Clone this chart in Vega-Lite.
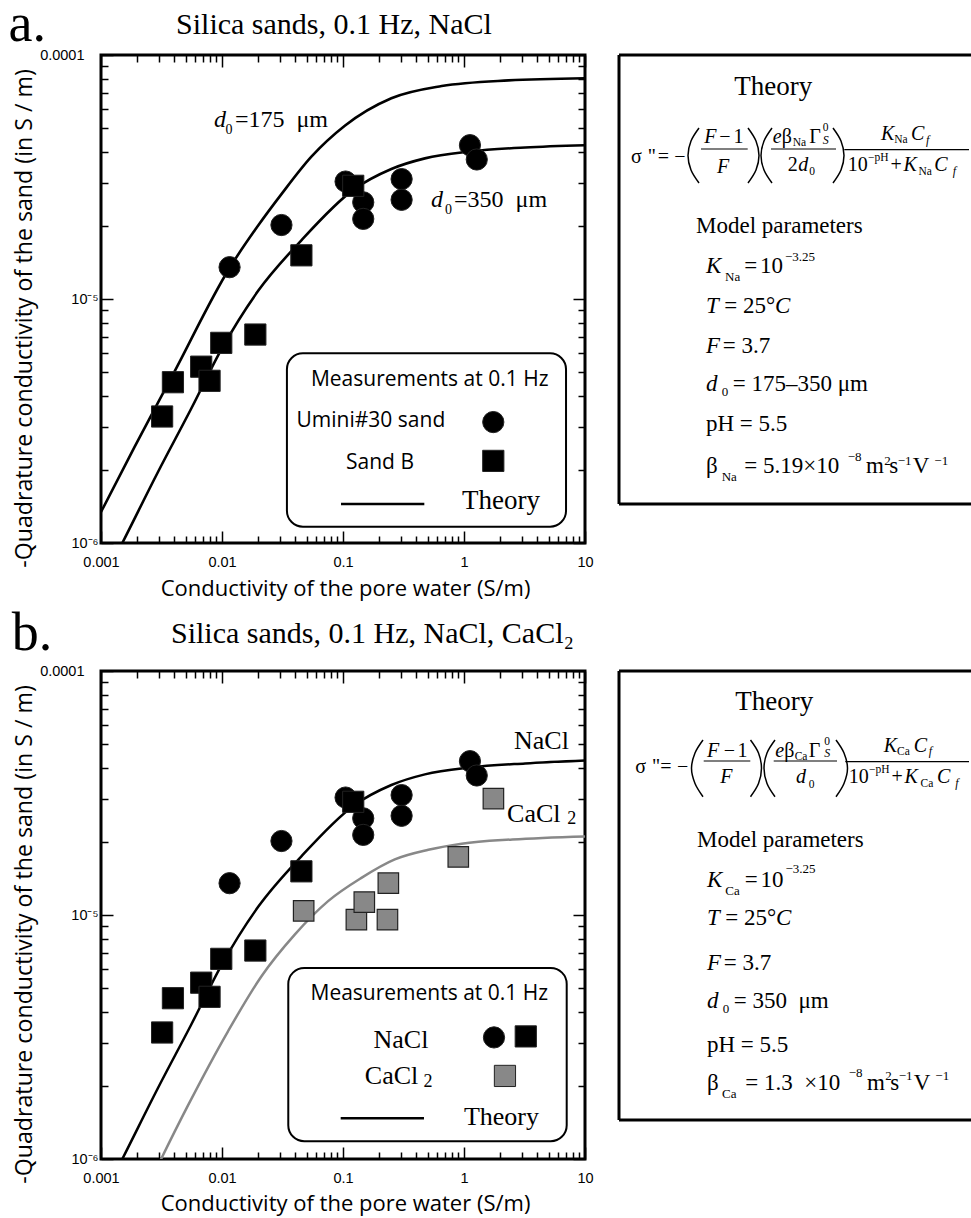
{
"$schema":"https://vega.github.io/schema/vega-lite/v6.json",
"padding":{"left":6,"top":-4,"right":0,"bottom":0},
"columns":2,
"align":"each",
"bounds":"flush",
"spacing":{"row":128,"column":34},
"config":{"view":{"stroke":"black","strokeWidth":3},"text":{"font":"Liberation Serif","baseline":"alphabetic","align":"left","color":"black"}},
"datasets":{
"meas":[
{"series":"Umini#30 sand","x":0.01155,"y":1.35e-5},{"series":"Umini#30 sand","x":0.031,"y":2.01e-5},{"series":"Umini#30 sand","x":0.105,"y":3.03e-5},{"series":"Umini#30 sand","x":0.147,"y":2.49e-5},{"series":"Umini#30 sand","x":0.147,"y":2.13e-5},{"series":"Umini#30 sand","x":0.305,"y":3.1e-5},{"series":"Umini#30 sand","x":0.305,"y":2.55e-5},{"series":"Umini#30 sand","x":1.12,"y":4.27e-5},{"series":"Umini#30 sand","x":1.275,"y":3.73e-5},
{"series":"Sand B","x":0.0032,"y":3.3e-6},{"series":"Sand B","x":0.00393,"y":4.56e-6},{"series":"Sand B","x":0.00673,"y":5.28e-6},{"series":"Sand B","x":0.00789,"y":4.62e-6},{"series":"Sand B","x":0.00986,"y":6.61e-6},{"series":"Sand B","x":0.01886,"y":7.15e-6},{"series":"Sand B","x":0.0453,"y":1.51e-5},{"series":"Sand B","x":0.1215,"y":2.91e-5}],
"ca":[{"series":"CaCl2","x":0.0473,"y":1.04e-5},{"series":"CaCl2","x":0.129,"y":9.57e-6},{"series":"CaCl2","x":0.15,"y":1.13e-5},{"series":"CaCl2","x":0.237,"y":1.35e-5},{"series":"CaCl2","x":0.233,"y":9.57e-6},{"series":"CaCl2","x":0.897,"y":1.73e-5},{"series":"CaCl2","x":1.75,"y":3.0e-5}],
"theoryA":[
{"d0":"175","x":0.001,"y":1.34e-6},{"d0":"175","x":0.00189,"y":2.47e-6},{"d0":"175","x":0.00393,"y":4.9e-6},{"d0":"175","x":0.01155,"y":1.34e-5},{"d0":"175","x":0.0199,"y":2.0e-5},{"d0":"175","x":0.031,"y":2.69e-5},{"d0":"175","x":0.0548,"y":3.83e-5},{"d0":"175","x":0.1035,"y":5.13e-5},{"d0":"175","x":0.251,"y":6.65e-5},{"d0":"175","x":0.654,"y":7.46e-5},{"d0":"175","x":2.33,"y":7.87e-5},{"d0":"175","x":10,"y":8.03e-5},
{"d0":"350","x":0.0013,"y":8.7e-7},{"d0":"350","x":0.0015,"y":1.0e-6},{"d0":"350","x":0.00295,"y":1.95e-6},{"d0":"350","x":0.00556,"y":3.55e-6},{"d0":"350","x":0.00986,"y":6.2e-6},{"d0":"350","x":0.0199,"y":1.08e-5},{"d0":"350","x":0.0453,"y":1.74e-5},{"d0":"350","x":0.1216,"y":2.8e-5},{"d0":"350","x":0.251,"y":3.41e-5},{"d0":"350","x":0.475,"y":3.77e-5},{"d0":"350","x":1.12,"y":4.02e-5},{"d0":"350","x":3.2,"y":4.18e-5},{"d0":"350","x":10,"y":4.27e-5}],
"theoryB":[
{"salt":"NaCl","x":0.0013,"y":8.7e-7},{"salt":"NaCl","x":0.0015,"y":1.0e-6},{"salt":"NaCl","x":0.00295,"y":1.95e-6},{"salt":"NaCl","x":0.00556,"y":3.55e-6},{"salt":"NaCl","x":0.00986,"y":6.2e-6},{"salt":"NaCl","x":0.0199,"y":1.08e-5},{"salt":"NaCl","x":0.0453,"y":1.74e-5},{"salt":"NaCl","x":0.1216,"y":2.8e-5},{"salt":"NaCl","x":0.251,"y":3.41e-5},{"salt":"NaCl","x":0.475,"y":3.77e-5},{"salt":"NaCl","x":1.12,"y":4.02e-5},{"salt":"NaCl","x":3.2,"y":4.18e-5},{"salt":"NaCl","x":10,"y":4.3e-5},
{"salt":"CaCl2","x":0.0028,"y":8.9e-7},{"salt":"CaCl2","x":0.00314,"y":1.0e-6},{"salt":"CaCl2","x":0.00521,"y":1.65e-6},{"salt":"CaCl2","x":0.01118,"y":3.33e-6},{"salt":"CaCl2","x":0.02113,"y":5.6e-6},{"salt":"CaCl2","x":0.0399,"y":8.31e-6},{"salt":"CaCl2","x":0.0753,"y":1.14e-5},{"salt":"CaCl2","x":0.142,"y":1.42e-5},{"salt":"CaCl2","x":0.268,"y":1.69e-5},{"salt":"CaCl2","x":0.507,"y":1.85e-5},{"salt":"CaCl2","x":0.957,"y":1.96e-5},{"salt":"CaCl2","x":2.51,"y":2.04e-5},{"salt":"CaCl2","x":10,"y":2.1e-5}],
"legSym":[{"panel":"a","series":"Umini#30 sand","x":1.746,"y":3.13e-6},{"panel":"a","series":"Sand B","x":1.746,"y":2.17e-6},{"panel":"b","series":"Umini#30 sand","x":1.77,"y":3.15e-6},{"panel":"b","series":"Sand B","x":3.24,"y":3.18e-6},{"panel":"b","series":"CaCl2","x":2.18,"y":2.19e-6}],
"legLine":[{"panel":"a","x":0.0963,"x2":0.47,"y":1.445e-6},{"panel":"b","x":0.0957,"x2":0.467,"y":1.47e-6}],
"legBox":[{"panel":"a","x":0.0344,"x2":6.97,"y":5.99e-6,"y2":1.167e-6},{"panel":"b","x":0.0353,"x2":7.06,"y":6.07e-6,"y2":1.183e-6}],
"plotSans":[{"panel":"a","x":0.5206,"y":4.41e-6,"text":"Measurements at 0.1 Hz"},{"panel":"a","x":0.17,"y":2.98e-6,"text":"Umini#30 sand"},{"panel":"a","x":0.2023,"y":2.01e-6,"text":"Sand B"},{"panel":"b","x":0.5166,"y":4.5e-6,"text":"Measurements at 0.1 Hz"}],
"plotSerifC":[{"panel":"a","x":2.02,"y":1.377e-6,"text":"Theory"},{"panel":"b","x":2.04,"y":1.38e-6,"text":"Theory"},{"panel":"b","x":0.301,"y":2.85e-6,"text":"NaCl"},{"panel":"b","x":0.252,"y":2.03e-6,"text":"CaCl"}],
"plotSerifL":[{"panel":"a","x":0.0128,"y":5.06e-5,"text":"=175\u00a0\u00a0μm"},{"panel":"a","x":0.827,"y":2.38e-5,"text":"=350\u00a0\u00a0μm"},{"panel":"b","x":2.59,"y":4.79e-5,"text":"NaCl"},{"panel":"b","x":2.27,"y":2.4e-5,"text":"CaCl"}],
"plotItalic":[{"panel":"a","x":0.00859,"y":5.06e-5,"text":"d"},{"panel":"a","x":0.534,"y":2.38e-5,"text":"d"}],
"plotSmall":[{"panel":"a","x":0.01069,"y":4.74e-5,"text":"0"},{"panel":"a","x":0.697,"y":2.22e-5,"text":"0"}],
"plotSub2":[{"panel":"b","x":7.15,"y":2.37e-5,"text":"2"},{"panel":"b","x":0.4627,"y":1.97e-6,"text":"2"}],
"head":[{"panel":"a","x":1.72e-4,"y":1.141e-4,"text":"a."},{"panel":"b","x":1.83e-4,"y":1.219e-4,"text":"b."}],
"heading":[{"panel":"a","x":0.00417,"y":1.219e-4,"text":"Silica sands, 0.1 Hz, NaCl"},{"panel":"b","x":0.00379,"y":1.302e-4,"text":"Silica sands, 0.1 Hz, NaCl, CaCl₂"}],
"boxBorder":[{"x":0,"y":0,"x2":352,"y2":0},{"x":0,"y":0,"x2":0,"y2":449},{"x":0,"y":449,"x2":352,"y2":449}],
"boxTitle":[{"panel":"a","x":154.3,"y":39.7,"text":"Theory"},{"panel":"b","x":155.3,"y":39,"text":"Theory"}],
"fUp":[
{"panel":"a","x":12,"y":108,"text":"σ"},{"panel":"a","x":28.7,"y":108,"text":"\""},{"panel":"a","x":38.7,"y":108,"text":"="},{"panel":"a","x":55.3,"y":108,"text":"−"},{"panel":"a","x":100.3,"y":88,"text":"−"},{"panel":"a","x":114.5,"y":88,"text":"1"},{"panel":"a","x":162.7,"y":88,"text":"β"},{"panel":"a","x":190.3,"y":88,"text":"Γ"},{"panel":"a","x":168.7,"y":116.3,"text":"2"},{"panel":"a","x":228.7,"y":116.3,"text":"10"},{"panel":"a","x":271.5,"y":116.3,"text":"+"},
{"panel":"b","x":16.3,"y":102.3,"text":"σ"},{"panel":"b","x":33,"y":102.3,"text":"\""},{"panel":"b","x":41.3,"y":102.3,"text":"="},{"panel":"b","x":58,"y":102.3,"text":"−"},{"panel":"b","x":104.7,"y":85.7,"text":"−"},{"panel":"b","x":118.5,"y":85.7,"text":"1"},{"panel":"b","x":165.3,"y":85.7,"text":"β"},{"panel":"b","x":189.7,"y":85.7,"text":"Γ"},{"panel":"b","x":229.7,"y":112.3,"text":"10"},{"panel":"b","x":272.5,"y":112.3,"text":"+"}],
"fIt":[
{"panel":"a","x":85.3,"y":88,"text":"F"},{"panel":"a","x":98,"y":118,"text":"F"},{"panel":"a","x":153.7,"y":88,"text":"e"},{"panel":"a","x":179.3,"y":116.3,"text":"d"},{"panel":"a","x":262,"y":84.7,"text":"K"},{"panel":"a","x":292,"y":84.7,"text":"C"},{"panel":"a","x":284.5,"y":116.3,"text":"K"},{"panel":"a","x":315.3,"y":116.3,"text":"C"},
{"panel":"b","x":88,"y":85.7,"text":"F"},{"panel":"b","x":101.3,"y":112.3,"text":"F"},{"panel":"b","x":156.3,"y":85.7,"text":"e"},{"panel":"b","x":177,"y":112.3,"text":"d"},{"panel":"b","x":264.7,"y":80.7,"text":"K"},{"panel":"b","x":294.7,"y":80.7,"text":"C"},{"panel":"b","x":285.5,"y":112.3,"text":"K"},{"panel":"b","x":318,"y":112.3,"text":"C"}],
"fSm":[
{"panel":"a","x":173.7,"y":91.3,"text":"Na"},{"panel":"a","x":203.7,"y":76,"text":"0"},{"panel":"a","x":190.3,"y":119.7,"text":"0"},{"panel":"a","x":275.3,"y":88,"text":"Na"},{"panel":"a","x":249,"y":106.3,"text":"−pH"},{"panel":"a","x":299.5,"y":119.7,"text":"Na"},
{"panel":"b","x":175.7,"y":89,"text":"Ca"},{"panel":"b","x":205.3,"y":74,"text":"0"},{"panel":"b","x":189.7,"y":116.7,"text":"0"},{"panel":"b","x":278,"y":84,"text":"Ca"},{"panel":"b","x":250,"y":102.3,"text":"−pH"},{"panel":"b","x":301.5,"y":115.7,"text":"Ca"}],
"fSmIt":[
{"panel":"a","x":203.7,"y":89,"text":"S"},{"panel":"a","x":307,"y":89,"text":"f"},{"panel":"a","x":333.7,"y":120,"text":"f"},
{"panel":"b","x":205.3,"y":86,"text":"S"},{"panel":"b","x":309.7,"y":84,"text":"f"},{"panel":"b","x":336.3,"y":116,"text":"f"}],
"fBar":[{"panel":"a","x":82,"x2":128.7,"y":94},{"panel":"a","x":152,"x2":217,"y":94},{"panel":"a","x":225.3,"x2":350,"y":94.7},{"panel":"b","x":84.7,"x2":131.3,"y":90},{"panel":"b","x":154.7,"x2":218,"y":90},{"panel":"b","x":226.3,"x2":350,"y":90.7}],
"paren":[
{"panel":"a","id":"a1","k":1,"x":80,"y":73},{"panel":"a","id":"a1","k":2,"x":72,"y":86},{"panel":"a","id":"a1","k":3,"x":69,"y":100.5},{"panel":"a","id":"a1","k":4,"x":72,"y":115},{"panel":"a","id":"a1","k":5,"x":80,"y":128},
{"panel":"a","id":"a2","k":1,"x":129,"y":73},{"panel":"a","id":"a2","k":2,"x":137,"y":86},{"panel":"a","id":"a2","k":3,"x":140,"y":100.5},{"panel":"a","id":"a2","k":4,"x":137,"y":115},{"panel":"a","id":"a2","k":5,"x":129,"y":128},
{"panel":"a","id":"a3","k":1,"x":153,"y":73},{"panel":"a","id":"a3","k":2,"x":145,"y":86},{"panel":"a","id":"a3","k":3,"x":142,"y":100.5},{"panel":"a","id":"a3","k":4,"x":145,"y":115},{"panel":"a","id":"a3","k":5,"x":153,"y":128},
{"panel":"a","id":"a4","k":1,"x":214,"y":73},{"panel":"a","id":"a4","k":2,"x":222,"y":86},{"panel":"a","id":"a4","k":3,"x":225,"y":100.5},{"panel":"a","id":"a4","k":4,"x":222,"y":115},{"panel":"a","id":"a4","k":5,"x":214,"y":128},
{"panel":"b","id":"b1","k":1,"x":84,"y":69},{"panel":"b","id":"b1","k":2,"x":76,"y":82},{"panel":"b","id":"b1","k":3,"x":72.5,"y":97.3},{"panel":"b","id":"b1","k":4,"x":76,"y":112.5},{"panel":"b","id":"b1","k":5,"x":84,"y":125.7},
{"panel":"b","id":"b2","k":1,"x":131.5,"y":69},{"panel":"b","id":"b2","k":2,"x":139.5,"y":82},{"panel":"b","id":"b2","k":3,"x":142.5,"y":97.3},{"panel":"b","id":"b2","k":4,"x":139.5,"y":112.5},{"panel":"b","id":"b2","k":5,"x":131.5,"y":125.7},
{"panel":"b","id":"b3","k":1,"x":156,"y":69},{"panel":"b","id":"b3","k":2,"x":148,"y":82},{"panel":"b","id":"b3","k":3,"x":145,"y":97.3},{"panel":"b","id":"b3","k":4,"x":148,"y":112.5},{"panel":"b","id":"b3","k":5,"x":156,"y":125.7},
{"panel":"b","id":"b4","k":1,"x":217,"y":69},{"panel":"b","id":"b4","k":2,"x":225,"y":82},{"panel":"b","id":"b4","k":3,"x":228.5,"y":97.3},{"panel":"b","id":"b4","k":4,"x":225,"y":112.5},{"panel":"b","id":"b4","k":5,"x":217,"y":125.7}],
"pUp":[
{"panel":"a","x":77,"y":178,"text":"Model parameters"},{"panel":"a","x":125.3,"y":218,"text":"="},{"panel":"a","x":141,"y":218,"text":"10"},{"panel":"a","x":105.3,"y":258,"text":"= 25°"},{"panel":"a","x":103.7,"y":298,"text":"= 3.7"},{"panel":"a","x":113.7,"y":336.3,"text":"= 175–350 μm"},{"panel":"a","x":87,"y":376.3,"text":"pH = 5.5"},{"panel":"a","x":87,"y":418,"text":"β"},{"panel":"a","x":125.3,"y":418,"text":"= 5.19×10"},{"panel":"a","x":247,"y":418,"text":"m"},{"panel":"a","x":270.3,"y":418,"text":"s"},{"panel":"a","x":293.7,"y":418,"text":"V"},
{"panel":"b","x":78,"y":175.7,"text":"Model parameters"},{"panel":"b","x":125.7,"y":215.7,"text":"="},{"panel":"b","x":141.5,"y":215.7,"text":"10"},{"panel":"b","x":106.3,"y":254,"text":"= 25°"},{"panel":"b","x":104.7,"y":299,"text":"= 3.7"},{"panel":"b","x":114.7,"y":337.3,"text":"= 350\u00a0\u00a0μm"},{"panel":"b","x":88,"y":380.7,"text":"pH = 5.5"},{"panel":"b","x":88,"y":419,"text":"β"},{"panel":"b","x":126.3,"y":419,"text":"= 1.3\u00a0\u00a0×10"},{"panel":"b","x":248,"y":419,"text":"m"},{"panel":"b","x":271.3,"y":419,"text":"s"},{"panel":"b","x":294.7,"y":419,"text":"V"}],
"pIt":[
{"panel":"a","x":87,"y":218,"text":"K"},{"panel":"a","x":87,"y":258,"text":"T"},{"panel":"a","x":156,"y":258,"text":"C"},{"panel":"a","x":87,"y":298,"text":"F"},{"panel":"a","x":87,"y":336.3,"text":"d"},
{"panel":"b","x":88,"y":215.7,"text":"K"},{"panel":"b","x":88,"y":254,"text":"T"},{"panel":"b","x":157,"y":254,"text":"C"},{"panel":"b","x":88,"y":299,"text":"F"},{"panel":"b","x":88,"y":337.3,"text":"d"}],
"pSm":[
{"panel":"a","x":106,"y":226.3,"text":"Na"},{"panel":"a","x":166,"y":206.3,"text":"−3.25"},{"panel":"a","x":102.7,"y":341.3,"text":"0"},{"panel":"a","x":102.7,"y":426.3,"text":"Na"},{"panel":"a","x":228.7,"y":406.3,"text":"−8"},{"panel":"a","x":265.3,"y":409.7,"text":"2"},{"panel":"a","x":278.7,"y":409.7,"text":"−1"},{"panel":"a","x":315.3,"y":409.7,"text":"−1"},
{"panel":"b","x":106.3,"y":224,"text":"Ca"},{"panel":"b","x":166.5,"y":202.3,"text":"−3.25"},{"panel":"b","x":103.7,"y":342.3,"text":"0"},{"panel":"b","x":103,"y":427.3,"text":"Ca"},{"panel":"b","x":229.7,"y":405.7,"text":"−8"},{"panel":"b","x":266.3,"y":409,"text":"2"},{"panel":"b","x":279.7,"y":409,"text":"−1"},{"panel":"b","x":316.3,"y":409,"text":"−1"}]
},
"concat":[
{
"width":484,"height":488,
"resolve":{"axis":{"x":"independent","y":"independent"}},
"layer":[
{"data":{"name":"theoryA"},"mark":{"type":"line","color":"black","strokeWidth":2.6,"clip":true,"interpolate":"monotone"},
"encoding":{"x":{"field":"x","type":"quantitative","scale":{"type":"log","domain":[0.001,10],"nice":false},
"axis":{"orient":"bottom","values":[0.001,0.01,0.1,1,10],"labelExpr":"datum.value == 0.001 ? '0.001' : datum.value == 0.01 ? '0.01' : datum.value == 0.1 ? '0.1' : datum.value == 1 ? '1' : '10'","tickSize":-12,"tickWidth":1.5,"tickColor":"black","domain":false,"grid":false,"labelFont":"Liberation Sans","labelFontSize":14.5,"labelColor":"black","labelPadding":24,"labelOverlap":false,"labelFlush":false,"title":"Conductivity of the pore water (S/m)","titleFont":"Open Sans","titleFontSize":22,"titleFontWeight":"normal","titleColor":"black","titleBaseline":"alphabetic","titleAlign":"center","titleX":244,"titleY":52}},
"y":{"field":"y","type":"quantitative","scale":{"type":"log","domain":[1e-6,1e-4],"nice":false},
"axis":{"orient":"left","values":[1e-6,1e-5,1e-4],"labelExpr":"datum.value == 0.0001 ? '0.0001' : datum.value == 0.00001 ? '10⁻⁵' : '10⁻⁶'","tickSize":-12,"tickWidth":1.5,"tickColor":"black","domain":false,"grid":false,"labelFont":"Liberation Sans","labelFontSize":14.5,"labelColor":"black","labelPadding":{"condition":{"test":"datum.value == 0.0001","value":29},"value":15},"labelOverlap":false,"labelFlush":false,"title":"-Quadrature conductivity of the sand (in S / m)","titleFont":"Open Sans","titleFontSize":23.2,"titleFontWeight":"normal","titleColor":"black","titleBaseline":"alphabetic","titleX":-70,"titleY":263}},
"detail":{"field":"d0"}}},
{"data":{"name":"meas"},"mark":{"type":"point","filled":true,"opacity":1,"size":450,"stroke":"#222","strokeWidth":1},
"encoding":{"x":{"field":"x","type":"quantitative","scale":{"type":"log","domain":[0.001,10],"nice":false},
"axis":{"orient":"top","values":[0.001,0.01,0.1,1,10],"labels":false,"tickSize":-12,"tickWidth":1.5,"tickColor":"black","domain":false,"grid":false,"title":null}},
"y":{"field":"y","type":"quantitative","scale":{"type":"log","domain":[1e-6,1e-4],"nice":false},
"axis":{"orient":"right","values":[1e-6,1e-5,1e-4],"labels":false,"tickSize":-12,"tickWidth":1.5,"tickColor":"black","domain":false,"grid":false,"title":null}},
"shape":{"field":"series","type":"nominal","scale":{"domain":["Umini#30 sand","Sand B","CaCl2"],"range":["circle","square","square"]},"legend":null},
"color":{"field":"series","type":"nominal","scale":{"domain":["Umini#30 sand","Sand B","CaCl2"],"range":["black","black","#888888"]},"legend":null}}},
{"data":{"name":"legBox"},"transform":[{"filter":"datum.panel == 'a'"}],"mark":{"type":"rect","fill":"white","stroke":"black","strokeWidth":2,"cornerRadius":16},
"encoding":{"x":{"field":"x","type":"quantitative","scale":{"type":"log","domain":[0.001,10],"nice":false},
"axis":{"orient":"bottom","values":[0.002,0.003,0.004,0.005,0.006,0.007,0.008,0.009,0.02,0.03,0.04,0.05,0.06,0.07,0.08,0.09,0.2,0.3,0.4,0.5,0.6,0.7,0.8,0.9,2,3,4,5,6,7,8,9],"labels":false,"tickSize":-7,"tickWidth":1.5,"tickColor":"black","domain":false,"grid":false,"title":null}},"x2":{"field":"x2"},
"y":{"field":"y","type":"quantitative","scale":{"type":"log","domain":[1e-6,1e-4],"nice":false},
"axis":{"orient":"left","values":[2e-6,3e-6,4e-6,5e-6,6e-6,7e-6,8e-6,9e-6,2e-5,3e-5,4e-5,5e-5,6e-5,7e-5,8e-5,9e-5],"labels":false,"tickSize":-7,"tickWidth":1.5,"tickColor":"black","domain":false,"grid":false,"title":null}},"y2":{"field":"y2"}}},
{"data":{"name":"legSym"},"transform":[{"filter":"datum.panel == 'a'"}],"mark":{"type":"point","filled":true,"opacity":1,"size":450,"stroke":"#222","strokeWidth":1},
"encoding":{"x":{"field":"x","type":"quantitative","scale":{"type":"log","domain":[0.001,10],"nice":false},
"axis":{"orient":"top","values":[0.002,0.003,0.004,0.005,0.006,0.007,0.008,0.009,0.02,0.03,0.04,0.05,0.06,0.07,0.08,0.09,0.2,0.3,0.4,0.5,0.6,0.7,0.8,0.9,2,3,4,5,6,7,8,9],"labels":false,"tickSize":-7,"tickWidth":1.5,"tickColor":"black","domain":false,"grid":false,"title":null}},
"y":{"field":"y","type":"quantitative","scale":{"type":"log","domain":[1e-6,1e-4],"nice":false},
"axis":{"orient":"right","values":[2e-6,3e-6,4e-6,5e-6,6e-6,7e-6,8e-6,9e-6,2e-5,3e-5,4e-5,5e-5,6e-5,7e-5,8e-5,9e-5],"labels":false,"tickSize":-7,"tickWidth":1.5,"tickColor":"black","domain":false,"grid":false,"title":null}},
"shape":{"field":"series","type":"nominal","scale":{"domain":["Umini#30 sand","Sand B","CaCl2"],"range":["circle","square","square"]},"legend":null},
"color":{"field":"series","type":"nominal","scale":{"domain":["Umini#30 sand","Sand B","CaCl2"],"range":["black","black","#888888"]},"legend":null}}},
{"data":{"name":"legLine"},"transform":[{"filter":"datum.panel == 'a'"}],"mark":{"type":"rule","color":"black","strokeWidth":2.5},
"encoding":{"x":{"field":"x","type":"quantitative","scale":{"type":"log","domain":[0.001,10],"nice":false},"axis":null},"x2":{"field":"x2"},"y":{"field":"y","type":"quantitative","scale":{"type":"log","domain":[1e-6,1e-4],"nice":false},"axis":null}}},
{"data":{"name":"plotSans"},"transform":[{"filter":"datum.panel == 'a'"}],"mark":{"type":"text","font":"Open Sans","fontSize":21,"align":"center"},
"encoding":{"x":{"field":"x","type":"quantitative","scale":{"type":"log","domain":[0.001,10],"nice":false},"axis":null},"y":{"field":"y","type":"quantitative","scale":{"type":"log","domain":[1e-6,1e-4],"nice":false},"axis":null},"text":{"field":"text"}}},
{"data":{"name":"plotSerifC"},"transform":[{"filter":"datum.panel == 'a'"}],"mark":{"type":"text","fontSize":27,"align":"center"},
"encoding":{"x":{"field":"x","type":"quantitative","scale":{"type":"log","domain":[0.001,10],"nice":false},"axis":null},"y":{"field":"y","type":"quantitative","scale":{"type":"log","domain":[1e-6,1e-4],"nice":false},"axis":null},"text":{"field":"text"}}},
{"data":{"name":"plotSerifL"},"transform":[{"filter":"datum.panel == 'a'"}],"mark":{"type":"text","fontSize":24},
"encoding":{"x":{"field":"x","type":"quantitative","scale":{"type":"log","domain":[0.001,10],"nice":false},"axis":null},"y":{"field":"y","type":"quantitative","scale":{"type":"log","domain":[1e-6,1e-4],"nice":false},"axis":null},"text":{"field":"text"}}},
{"data":{"name":"plotItalic"},"transform":[{"filter":"datum.panel == 'a'"}],"mark":{"type":"text","fontSize":24,"fontStyle":"italic"},
"encoding":{"x":{"field":"x","type":"quantitative","scale":{"type":"log","domain":[0.001,10],"nice":false},"axis":null},"y":{"field":"y","type":"quantitative","scale":{"type":"log","domain":[1e-6,1e-4],"nice":false},"axis":null},"text":{"field":"text"}}},
{"data":{"name":"plotSmall"},"transform":[{"filter":"datum.panel == 'a'"}],"mark":{"type":"text","fontSize":14},
"encoding":{"x":{"field":"x","type":"quantitative","scale":{"type":"log","domain":[0.001,10],"nice":false},"axis":null},"y":{"field":"y","type":"quantitative","scale":{"type":"log","domain":[1e-6,1e-4],"nice":false},"axis":null},"text":{"field":"text"}}},
{"data":{"name":"head"},"transform":[{"filter":"datum.panel == 'a'"}],"mark":{"type":"text","fontSize":54},
"encoding":{"x":{"field":"x","type":"quantitative","scale":{"type":"log","domain":[0.001,10],"nice":false},"axis":null},"y":{"field":"y","type":"quantitative","scale":{"type":"log","domain":[1e-6,1e-4],"nice":false},"axis":null},"text":{"field":"text"}}},
{"data":{"name":"heading"},"transform":[{"filter":"datum.panel == 'a'"}],"mark":{"type":"text","fontSize":30},
"encoding":{"x":{"field":"x","type":"quantitative","scale":{"type":"log","domain":[0.001,10],"nice":false},"axis":null},"y":{"field":"y","type":"quantitative","scale":{"type":"log","domain":[1e-6,1e-4],"nice":false},"axis":null},"text":{"field":"text"}}}
]
},
{
"width":352,"height":449,"view":{"stroke":null},
"layer":[
{"data":{"name":"boxBorder"},"mark":{"type":"rule","color":"black","strokeWidth":3},"encoding":{"x":{"field":"x","type":"quantitative","scale":{"domain":[0,352],"nice":false,"zero":false},"axis":null},"y":{"field":"y","type":"quantitative","scale":{"domain":[0,449],"nice":false,"zero":false,"reverse":true},"axis":null},"x2":{"field":"x2"},"y2":{"field":"y2"}}},
{"data":{"name":"boxTitle"},"transform":[{"filter":"datum.panel == 'a'"}],"mark":{"type":"text","fontSize":27,"align":"center"},"encoding":{"x":{"field":"x","type":"quantitative","scale":{"domain":[0,352],"nice":false,"zero":false},"axis":null},"y":{"field":"y","type":"quantitative","scale":{"domain":[0,449],"nice":false,"zero":false,"reverse":true},"axis":null},"text":{"field":"text"}}},
{"data":{"name":"fUp"},"transform":[{"filter":"datum.panel == 'a'"}],"mark":{"type":"text","fontSize":20},"encoding":{"x":{"field":"x","type":"quantitative","scale":{"domain":[0,352],"nice":false,"zero":false},"axis":null},"y":{"field":"y","type":"quantitative","scale":{"domain":[0,449],"nice":false,"zero":false,"reverse":true},"axis":null},"text":{"field":"text"}}},
{"data":{"name":"fIt"},"transform":[{"filter":"datum.panel == 'a'"}],"mark":{"type":"text","fontSize":20,"fontStyle":"italic"},"encoding":{"x":{"field":"x","type":"quantitative","scale":{"domain":[0,352],"nice":false,"zero":false},"axis":null},"y":{"field":"y","type":"quantitative","scale":{"domain":[0,449],"nice":false,"zero":false,"reverse":true},"axis":null},"text":{"field":"text"}}},
{"data":{"name":"fSm"},"transform":[{"filter":"datum.panel == 'a'"}],"mark":{"type":"text","fontSize":11.5},"encoding":{"x":{"field":"x","type":"quantitative","scale":{"domain":[0,352],"nice":false,"zero":false},"axis":null},"y":{"field":"y","type":"quantitative","scale":{"domain":[0,449],"nice":false,"zero":false,"reverse":true},"axis":null},"text":{"field":"text"}}},
{"data":{"name":"fSmIt"},"transform":[{"filter":"datum.panel == 'a'"}],"mark":{"type":"text","fontSize":12,"fontStyle":"italic"},"encoding":{"x":{"field":"x","type":"quantitative","scale":{"domain":[0,352],"nice":false,"zero":false},"axis":null},"y":{"field":"y","type":"quantitative","scale":{"domain":[0,449],"nice":false,"zero":false,"reverse":true},"axis":null},"text":{"field":"text"}}},
{"data":{"name":"fBar"},"transform":[{"filter":"datum.panel == 'a'"}],"mark":{"type":"rule","color":"black","strokeWidth":1.2},"encoding":{"x":{"field":"x","type":"quantitative","scale":{"domain":[0,352],"nice":false,"zero":false},"axis":null},"x2":{"field":"x2"},"y":{"field":"y","type":"quantitative","scale":{"domain":[0,449],"nice":false,"zero":false,"reverse":true},"axis":null}}},
{"data":{"name":"paren"},"transform":[{"filter":"datum.panel == 'a'"}],"mark":{"type":"line","color":"black","strokeWidth":1.5,"interpolate":"cardinal"},"encoding":{"x":{"field":"x","type":"quantitative","scale":{"domain":[0,352],"nice":false,"zero":false},"axis":null},"y":{"field":"y","type":"quantitative","scale":{"domain":[0,449],"nice":false,"zero":false,"reverse":true},"axis":null},"detail":{"field":"id"},"order":{"field":"k"}}},
{"data":{"name":"pUp"},"transform":[{"filter":"datum.panel == 'a'"}],"mark":{"type":"text","fontSize":23},"encoding":{"x":{"field":"x","type":"quantitative","scale":{"domain":[0,352],"nice":false,"zero":false},"axis":null},"y":{"field":"y","type":"quantitative","scale":{"domain":[0,449],"nice":false,"zero":false,"reverse":true},"axis":null},"text":{"field":"text"}}},
{"data":{"name":"pIt"},"transform":[{"filter":"datum.panel == 'a'"}],"mark":{"type":"text","fontSize":23,"fontStyle":"italic"},"encoding":{"x":{"field":"x","type":"quantitative","scale":{"domain":[0,352],"nice":false,"zero":false},"axis":null},"y":{"field":"y","type":"quantitative","scale":{"domain":[0,449],"nice":false,"zero":false,"reverse":true},"axis":null},"text":{"field":"text"}}},
{"data":{"name":"pSm"},"transform":[{"filter":"datum.panel == 'a'"}],"mark":{"type":"text","fontSize":13},"encoding":{"x":{"field":"x","type":"quantitative","scale":{"domain":[0,352],"nice":false,"zero":false},"axis":null},"y":{"field":"y","type":"quantitative","scale":{"domain":[0,449],"nice":false,"zero":false,"reverse":true},"axis":null},"text":{"field":"text"}}}
]
},
{
"width":484,"height":488,
"resolve":{"axis":{"x":"independent","y":"independent"}},
"layer":[
{"data":{"name":"theoryB"},"mark":{"type":"line","strokeWidth":2.5,"clip":true,"interpolate":"monotone"},
"encoding":{"x":{"field":"x","type":"quantitative","scale":{"type":"log","domain":[0.001,10],"nice":false},
"axis":{"orient":"bottom","values":[0.001,0.01,0.1,1,10],"labelExpr":"datum.value == 0.001 ? '0.001' : datum.value == 0.01 ? '0.01' : datum.value == 0.1 ? '0.1' : datum.value == 1 ? '1' : '10'","tickSize":-12,"tickWidth":1.5,"tickColor":"black","domain":false,"grid":false,"labelFont":"Liberation Sans","labelFontSize":14.5,"labelColor":"black","labelPadding":24,"labelOverlap":false,"labelFlush":false,"title":"Conductivity of the pore water (S/m)","titleFont":"Open Sans","titleFontSize":22,"titleFontWeight":"normal","titleColor":"black","titleBaseline":"alphabetic","titleAlign":"center","titleX":244,"titleY":51}},
"y":{"field":"y","type":"quantitative","scale":{"type":"log","domain":[1e-6,1e-4],"nice":false},
"axis":{"orient":"left","values":[1e-6,1e-5,1e-4],"labelExpr":"datum.value == 0.0001 ? '0.0001' : datum.value == 0.00001 ? '10⁻⁵' : '10⁻⁶'","tickSize":-12,"tickWidth":1.5,"tickColor":"black","domain":false,"grid":false,"labelFont":"Liberation Sans","labelFontSize":14.5,"labelColor":"black","labelPadding":{"condition":{"test":"datum.value == 0.0001","value":29},"value":15},"labelOverlap":false,"labelFlush":false,"title":"-Quadrature conductivity of the sand (in S / m)","titleFont":"Open Sans","titleFontSize":23.2,"titleFontWeight":"normal","titleColor":"black","titleBaseline":"alphabetic","titleX":-70,"titleY":263}},
"color":{"field":"salt","type":"nominal","scale":{"domain":["NaCl","CaCl2"],"range":["black","#7a7a7a"]},"legend":null}}},
{"data":{"name":"meas"},"mark":{"type":"point","filled":true,"opacity":1,"size":450,"stroke":"#222","strokeWidth":1},
"encoding":{"x":{"field":"x","type":"quantitative","scale":{"type":"log","domain":[0.001,10],"nice":false},
"axis":{"orient":"top","values":[0.001,0.01,0.1,1,10],"labels":false,"tickSize":-12,"tickWidth":1.5,"tickColor":"black","domain":false,"grid":false,"title":null}},
"y":{"field":"y","type":"quantitative","scale":{"type":"log","domain":[1e-6,1e-4],"nice":false},
"axis":{"orient":"right","values":[1e-6,1e-5,1e-4],"labels":false,"tickSize":-12,"tickWidth":1.5,"tickColor":"black","domain":false,"grid":false,"title":null}},
"shape":{"field":"series","type":"nominal","scale":{"domain":["Umini#30 sand","Sand B","CaCl2"],"range":["circle","square","square"]},"legend":null},
"color":{"field":"series","type":"nominal","scale":{"domain":["Umini#30 sand","Sand B","CaCl2"],"range":["black","black","#888888"]},"legend":null}}},
{"data":{"name":"ca"},"mark":{"type":"point","filled":true,"opacity":1,"size":420,"shape":"square","stroke":"#222","strokeWidth":1.2},
"encoding":{"x":{"field":"x","type":"quantitative","scale":{"type":"log","domain":[0.001,10],"nice":false},"axis":null},"y":{"field":"y","type":"quantitative","scale":{"type":"log","domain":[1e-6,1e-4],"nice":false},"axis":null},
"color":{"field":"series","type":"nominal","scale":{"domain":["Umini#30 sand","Sand B","CaCl2"],"range":["black","black","#888888"]},"legend":null}}},
{"data":{"name":"legBox"},"transform":[{"filter":"datum.panel == 'b'"}],"mark":{"type":"rect","fill":"white","stroke":"black","strokeWidth":2,"cornerRadius":16},
"encoding":{"x":{"field":"x","type":"quantitative","scale":{"type":"log","domain":[0.001,10],"nice":false},
"axis":{"orient":"bottom","values":[0.002,0.003,0.004,0.005,0.006,0.007,0.008,0.009,0.02,0.03,0.04,0.05,0.06,0.07,0.08,0.09,0.2,0.3,0.4,0.5,0.6,0.7,0.8,0.9,2,3,4,5,6,7,8,9],"labels":false,"tickSize":-7,"tickWidth":1.5,"tickColor":"black","domain":false,"grid":false,"title":null}},"x2":{"field":"x2"},
"y":{"field":"y","type":"quantitative","scale":{"type":"log","domain":[1e-6,1e-4],"nice":false},
"axis":{"orient":"left","values":[2e-6,3e-6,4e-6,5e-6,6e-6,7e-6,8e-6,9e-6,2e-5,3e-5,4e-5,5e-5,6e-5,7e-5,8e-5,9e-5],"labels":false,"tickSize":-7,"tickWidth":1.5,"tickColor":"black","domain":false,"grid":false,"title":null}},"y2":{"field":"y2"}}},
{"data":{"name":"legSym"},"transform":[{"filter":"datum.panel == 'b'"}],"mark":{"type":"point","filled":true,"opacity":1,"size":450,"stroke":"#222","strokeWidth":1},
"encoding":{"x":{"field":"x","type":"quantitative","scale":{"type":"log","domain":[0.001,10],"nice":false},
"axis":{"orient":"top","values":[0.002,0.003,0.004,0.005,0.006,0.007,0.008,0.009,0.02,0.03,0.04,0.05,0.06,0.07,0.08,0.09,0.2,0.3,0.4,0.5,0.6,0.7,0.8,0.9,2,3,4,5,6,7,8,9],"labels":false,"tickSize":-7,"tickWidth":1.5,"tickColor":"black","domain":false,"grid":false,"title":null}},
"y":{"field":"y","type":"quantitative","scale":{"type":"log","domain":[1e-6,1e-4],"nice":false},
"axis":{"orient":"right","values":[2e-6,3e-6,4e-6,5e-6,6e-6,7e-6,8e-6,9e-6,2e-5,3e-5,4e-5,5e-5,6e-5,7e-5,8e-5,9e-5],"labels":false,"tickSize":-7,"tickWidth":1.5,"tickColor":"black","domain":false,"grid":false,"title":null}},
"shape":{"field":"series","type":"nominal","scale":{"domain":["Umini#30 sand","Sand B","CaCl2"],"range":["circle","square","square"]},"legend":null},
"color":{"field":"series","type":"nominal","scale":{"domain":["Umini#30 sand","Sand B","CaCl2"],"range":["black","black","#888888"]},"legend":null}}},
{"data":{"name":"legLine"},"transform":[{"filter":"datum.panel == 'b'"}],"mark":{"type":"rule","color":"black","strokeWidth":2.5},
"encoding":{"x":{"field":"x","type":"quantitative","scale":{"type":"log","domain":[0.001,10],"nice":false},"axis":null},"x2":{"field":"x2"},"y":{"field":"y","type":"quantitative","scale":{"type":"log","domain":[1e-6,1e-4],"nice":false},"axis":null}}},
{"data":{"name":"plotSans"},"transform":[{"filter":"datum.panel == 'b'"}],"mark":{"type":"text","font":"Open Sans","fontSize":21,"align":"center"},
"encoding":{"x":{"field":"x","type":"quantitative","scale":{"type":"log","domain":[0.001,10],"nice":false},"axis":null},"y":{"field":"y","type":"quantitative","scale":{"type":"log","domain":[1e-6,1e-4],"nice":false},"axis":null},"text":{"field":"text"}}},
{"data":{"name":"plotSerifC"},"transform":[{"filter":"datum.panel == 'b'"}],"mark":{"type":"text","fontSize":26,"align":"center"},
"encoding":{"x":{"field":"x","type":"quantitative","scale":{"type":"log","domain":[0.001,10],"nice":false},"axis":null},"y":{"field":"y","type":"quantitative","scale":{"type":"log","domain":[1e-6,1e-4],"nice":false},"axis":null},"text":{"field":"text"}}},
{"data":{"name":"plotSerifL"},"transform":[{"filter":"datum.panel == 'b'"}],"mark":{"type":"text","fontSize":26},
"encoding":{"x":{"field":"x","type":"quantitative","scale":{"type":"log","domain":[0.001,10],"nice":false},"axis":null},"y":{"field":"y","type":"quantitative","scale":{"type":"log","domain":[1e-6,1e-4],"nice":false},"axis":null},"text":{"field":"text"}}},
{"data":{"name":"plotSub2"},"transform":[{"filter":"datum.panel == 'b'"}],"mark":{"type":"text","fontSize":18},
"encoding":{"x":{"field":"x","type":"quantitative","scale":{"type":"log","domain":[0.001,10],"nice":false},"axis":null},"y":{"field":"y","type":"quantitative","scale":{"type":"log","domain":[1e-6,1e-4],"nice":false},"axis":null},"text":{"field":"text"}}},
{"data":{"name":"head"},"transform":[{"filter":"datum.panel == 'b'"}],"mark":{"type":"text","fontSize":54},
"encoding":{"x":{"field":"x","type":"quantitative","scale":{"type":"log","domain":[0.001,10],"nice":false},"axis":null},"y":{"field":"y","type":"quantitative","scale":{"type":"log","domain":[1e-6,1e-4],"nice":false},"axis":null},"text":{"field":"text"}}},
{"data":{"name":"heading"},"transform":[{"filter":"datum.panel == 'b'"}],"mark":{"type":"text","fontSize":30},
"encoding":{"x":{"field":"x","type":"quantitative","scale":{"type":"log","domain":[0.001,10],"nice":false},"axis":null},"y":{"field":"y","type":"quantitative","scale":{"type":"log","domain":[1e-6,1e-4],"nice":false},"axis":null},"text":{"field":"text"}}}
]
},
{
"width":352,"height":449,"view":{"stroke":null},
"layer":[
{"data":{"name":"boxBorder"},"mark":{"type":"rule","color":"black","strokeWidth":3},"encoding":{"x":{"field":"x","type":"quantitative","scale":{"domain":[0,352],"nice":false,"zero":false},"axis":null},"y":{"field":"y","type":"quantitative","scale":{"domain":[0,449],"nice":false,"zero":false,"reverse":true},"axis":null},"x2":{"field":"x2"},"y2":{"field":"y2"}}},
{"data":{"name":"boxTitle"},"transform":[{"filter":"datum.panel == 'b'"}],"mark":{"type":"text","fontSize":27,"align":"center"},"encoding":{"x":{"field":"x","type":"quantitative","scale":{"domain":[0,352],"nice":false,"zero":false},"axis":null},"y":{"field":"y","type":"quantitative","scale":{"domain":[0,449],"nice":false,"zero":false,"reverse":true},"axis":null},"text":{"field":"text"}}},
{"data":{"name":"fUp"},"transform":[{"filter":"datum.panel == 'b'"}],"mark":{"type":"text","fontSize":20},"encoding":{"x":{"field":"x","type":"quantitative","scale":{"domain":[0,352],"nice":false,"zero":false},"axis":null},"y":{"field":"y","type":"quantitative","scale":{"domain":[0,449],"nice":false,"zero":false,"reverse":true},"axis":null},"text":{"field":"text"}}},
{"data":{"name":"fIt"},"transform":[{"filter":"datum.panel == 'b'"}],"mark":{"type":"text","fontSize":20,"fontStyle":"italic"},"encoding":{"x":{"field":"x","type":"quantitative","scale":{"domain":[0,352],"nice":false,"zero":false},"axis":null},"y":{"field":"y","type":"quantitative","scale":{"domain":[0,449],"nice":false,"zero":false,"reverse":true},"axis":null},"text":{"field":"text"}}},
{"data":{"name":"fSm"},"transform":[{"filter":"datum.panel == 'b'"}],"mark":{"type":"text","fontSize":11.5},"encoding":{"x":{"field":"x","type":"quantitative","scale":{"domain":[0,352],"nice":false,"zero":false},"axis":null},"y":{"field":"y","type":"quantitative","scale":{"domain":[0,449],"nice":false,"zero":false,"reverse":true},"axis":null},"text":{"field":"text"}}},
{"data":{"name":"fSmIt"},"transform":[{"filter":"datum.panel == 'b'"}],"mark":{"type":"text","fontSize":12,"fontStyle":"italic"},"encoding":{"x":{"field":"x","type":"quantitative","scale":{"domain":[0,352],"nice":false,"zero":false},"axis":null},"y":{"field":"y","type":"quantitative","scale":{"domain":[0,449],"nice":false,"zero":false,"reverse":true},"axis":null},"text":{"field":"text"}}},
{"data":{"name":"fBar"},"transform":[{"filter":"datum.panel == 'b'"}],"mark":{"type":"rule","color":"black","strokeWidth":1.2},"encoding":{"x":{"field":"x","type":"quantitative","scale":{"domain":[0,352],"nice":false,"zero":false},"axis":null},"x2":{"field":"x2"},"y":{"field":"y","type":"quantitative","scale":{"domain":[0,449],"nice":false,"zero":false,"reverse":true},"axis":null}}},
{"data":{"name":"paren"},"transform":[{"filter":"datum.panel == 'b'"}],"mark":{"type":"line","color":"black","strokeWidth":1.5,"interpolate":"cardinal"},"encoding":{"x":{"field":"x","type":"quantitative","scale":{"domain":[0,352],"nice":false,"zero":false},"axis":null},"y":{"field":"y","type":"quantitative","scale":{"domain":[0,449],"nice":false,"zero":false,"reverse":true},"axis":null},"detail":{"field":"id"},"order":{"field":"k"}}},
{"data":{"name":"pUp"},"transform":[{"filter":"datum.panel == 'b'"}],"mark":{"type":"text","fontSize":23},"encoding":{"x":{"field":"x","type":"quantitative","scale":{"domain":[0,352],"nice":false,"zero":false},"axis":null},"y":{"field":"y","type":"quantitative","scale":{"domain":[0,449],"nice":false,"zero":false,"reverse":true},"axis":null},"text":{"field":"text"}}},
{"data":{"name":"pIt"},"transform":[{"filter":"datum.panel == 'b'"}],"mark":{"type":"text","fontSize":23,"fontStyle":"italic"},"encoding":{"x":{"field":"x","type":"quantitative","scale":{"domain":[0,352],"nice":false,"zero":false},"axis":null},"y":{"field":"y","type":"quantitative","scale":{"domain":[0,449],"nice":false,"zero":false,"reverse":true},"axis":null},"text":{"field":"text"}}},
{"data":{"name":"pSm"},"transform":[{"filter":"datum.panel == 'b'"}],"mark":{"type":"text","fontSize":13},"encoding":{"x":{"field":"x","type":"quantitative","scale":{"domain":[0,352],"nice":false,"zero":false},"axis":null},"y":{"field":"y","type":"quantitative","scale":{"domain":[0,449],"nice":false,"zero":false,"reverse":true},"axis":null},"text":{"field":"text"}}}
]
}
]
}
